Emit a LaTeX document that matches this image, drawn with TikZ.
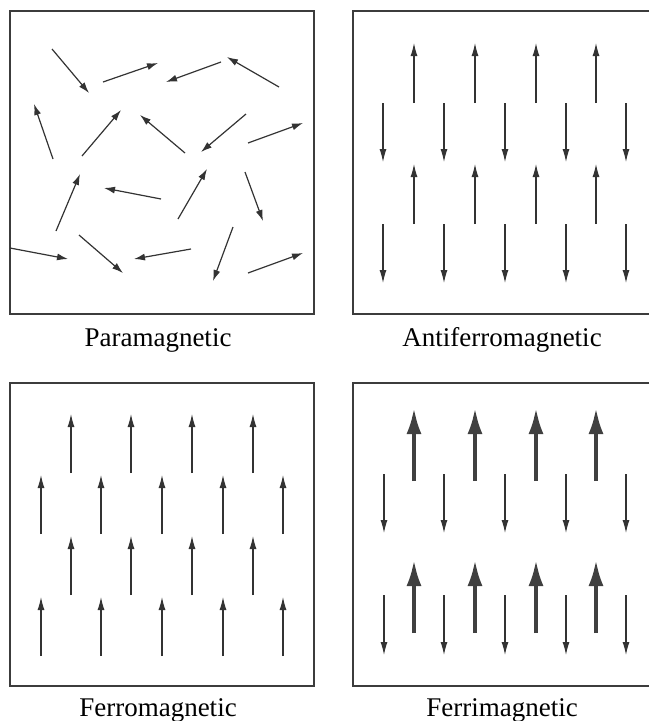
\documentclass[tikz,border=0pt]{standalone}
\usepackage{fontspec}
\setmainfont{Liberation Serif}
\usetikzlibrary{arrows.meta}
\definecolor{framegray}{HTML}{3C3C3C}
\definecolor{spingray}{HTML}{333333}
\definecolor{biggray}{HTML}{404040}
\begin{document}
\begin{tikzpicture}[x=1pt,y=-1pt,
  frame/.style={draw=framegray,line width=1.3pt},
  spin/.style={draw=spingray,line width=1.2pt,-{Latex[length=11pt,width=7pt]}},
  smallspin/.style={draw=spingray,line width=1.1pt,-{Latex[length=13pt,width=7pt]}},
  bigspin/.style={draw=biggray,line width=3.8pt,-{Latex[length=26pt,width=15pt]}},
  caption/.style={anchor=base,font=\fontsize{27}{32}\selectfont,text=black,inner sep=0pt}]
\useasboundingbox (0,0) rectangle (649,721);
% frames
\draw[frame] (10,11) rectangle (314,314);
\draw[frame] (649,11) -- (353,11) -- (353,314) -- (649,314);
\draw[frame] (10,383) rectangle (314,686);
\draw[frame] (649,383) -- (353,383) -- (353,686) -- (649,686);
% captions
\node[caption] (para) at (158,346) {Paramagnetic};
\node[caption] (anti) at (502,346) {Antiferromagnetic};
\node[caption] (ferro) at (158,716) {Ferromagnetic};
\node[caption] (ferri) at (502,716) {Ferrimagnetic};
% paramagnetic
\draw[spin] (52,49) -- (89,93);
\draw[spin] (103,82) -- (158,63);
\draw[spin] (221,62) -- (166,82);
\draw[spin] (279,87) -- (227,57);
\draw[spin] (53,159) -- (34,104);
\draw[spin] (82,156) -- (121,110);
\draw[spin] (185,153) -- (140,115);
\draw[spin] (246,114) -- (201,152);
\draw[spin] (248,143) -- (303,123);
\draw[spin] (56,231) -- (80,174);
\draw[spin] (161,199) -- (104,188);
\draw[spin] (178,219) -- (207,169);
\draw[spin] (245,172) -- (263,221);
\draw[spin] (10,248) -- (68,259);
\draw[spin] (79,235) -- (123,273);
\draw[spin] (191,249) -- (134,259);
\draw[spin] (233,227) -- (213,281);
\draw[spin] (248,273) -- (303,253);
% antiferromagnetic
\foreach \x in {414,475,536,596} {
  \draw[smallspin] (\x,103) -- (\x,43);
  \draw[smallspin] (\x,224) -- (\x,164);
}
\foreach \x in {383,444,505,566,626} {
  \draw[smallspin] (\x,103) -- (\x,162);
  \draw[smallspin] (\x,224) -- (\x,283);
}
% ferromagnetic
\foreach \x in {71,131,192,253} {
  \draw[smallspin] (\x,473) -- (\x,414);
  \draw[smallspin] (\x,595) -- (\x,536);
}
\foreach \x in {41,101,162,223,283} {
  \draw[smallspin] (\x,534) -- (\x,475);
  \draw[smallspin] (\x,656) -- (\x,597);
}
% ferrimagnetic
\foreach \x in {414,475,536,596} {
  \draw[bigspin] (\x,481) -- (\x,408);
  \draw[bigspin] (\x,633) -- (\x,560);
}
\foreach \x in {384,444,505,566,626} {
  \draw[smallspin] (\x,474) -- (\x,533);
  \draw[smallspin] (\x,595) -- (\x,655);
}
\end{tikzpicture}
\end{document}
